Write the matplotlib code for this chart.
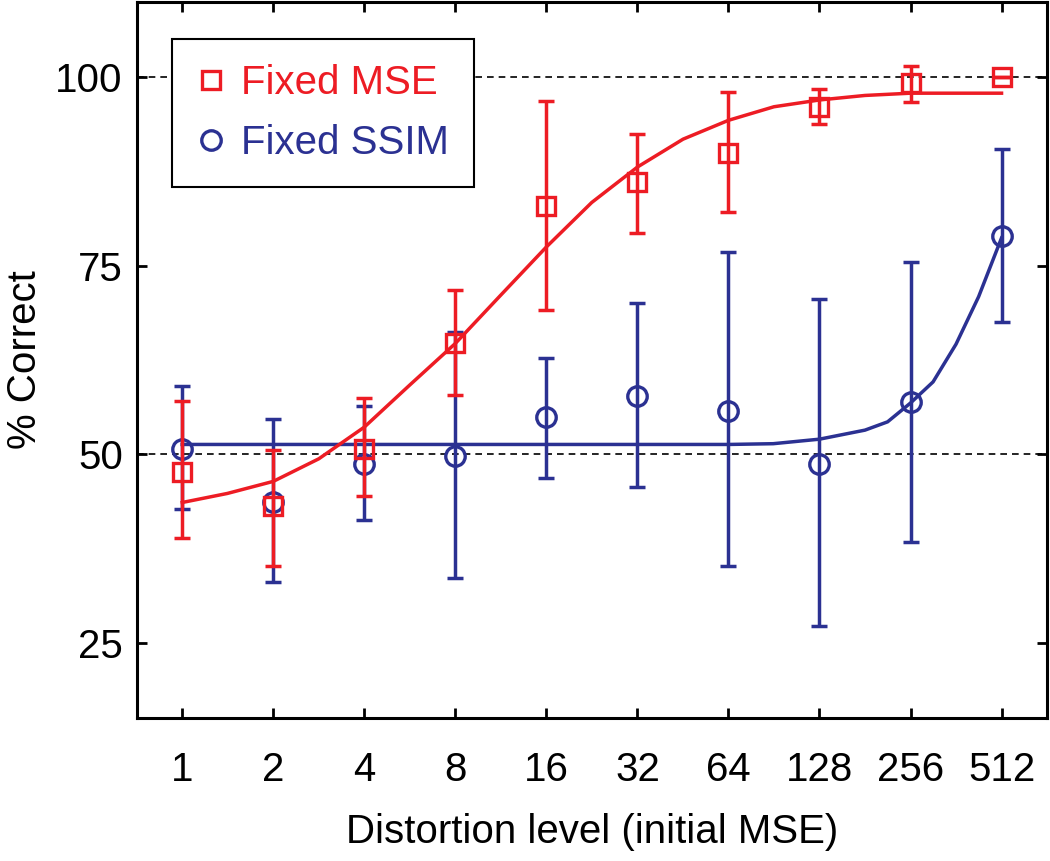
import matplotlib
matplotlib.use("Agg")
import matplotlib.pyplot as plt
from matplotlib.lines import Line2D

# === Data ===
levels = [1, 2, 4, 8, 16, 32, 64, 128, 256, 512]
tick_labels = ["1", "2", "4", "8", "16", "32", "64", "128", "256", "512"]

mse_pct = [47.6, 43.1, 50.7, 64.7, 83.0, 86.1, 89.9, 96.1, 99.2, 100.0]
mse_hi = [57.0, 50.5, 57.5, 71.8, 96.9, 92.5, 98.1, 98.4, 101.5, 100.0]
mse_lo = [38.9, 35.2, 44.4, 57.8, 69.1, 79.3, 82.1, 93.8, 96.7, 100.0]

ssim_pct = [50.7, 43.7, 48.7, 49.8, 54.9, 57.7, 55.8, 48.7, 56.9, 79.0]
ssim_hi = [59.1, 54.7, 56.4, 66.2, 62.8, 70.1, 76.8, 70.6, 75.5, 90.5]
ssim_lo = [42.7, 33.0, 41.3, 33.6, 46.8, 45.7, 35.2, 27.2, 38.3, 67.6]

# fitted curves
mse_fit_x = [1, 1.41, 2, 2.83, 4, 5.66, 8, 11.3, 16, 22.6, 32, 45.3, 64, 90.5, 128, 181, 256, 362, 512]
mse_fit_y = [43.6, 44.8, 46.4, 49.4, 53.6, 59.2, 64.7, 71.1, 77.5, 83.4, 88.1, 91.8, 94.3, 96.1, 97.0, 97.6, 97.9, 97.9, 97.9]

ssim_fit_x = [1, 16, 64, 90, 128, 181, 215, 256, 304, 362, 430, 512]
ssim_fit_y = [51.3, 51.3, 51.3, 51.4, 52.0, 53.2, 54.3, 56.8, 59.6, 64.6, 70.9, 78.7]

RED = "#ED1C24"
BLUE = "#2B3192"

plt.rcParams["font.family"] = ["Liberation Sans", "DejaVu Sans"]
plt.rcParams["font.size"] = 29

fig = plt.figure(figsize=(10.5, 8.61), dpi=100)
ax = fig.add_axes([0.1302, 0.166, 0.867, 0.8317])

ax.set_xscale("log", base=2)
ax.set_xlim(2 ** -0.5, 2 ** 9.5)
ax.set_ylim(15, 110)

# reference lines at chance and ceiling
for yref in (50, 100):
    ax.axhline(yref, color="black", lw=1.2, ls=(0, (4, 3)), zorder=1)

lw = 2.5
cap = 6
# blue series first so red ends on top
ax.errorbar(levels, ssim_pct,
            yerr=[[p - l for p, l in zip(ssim_pct, ssim_lo)],
                  [h - p for p, h in zip(ssim_pct, ssim_hi)]],
            fmt="none", ecolor=BLUE, elinewidth=lw, capsize=cap, capthick=lw, zorder=2)
ax.plot(ssim_fit_x, ssim_fit_y, color=BLUE, lw=lw, zorder=3)
ax.plot(levels, ssim_pct, ls="none", marker="o", ms=14, mfc="none",
        mec=BLUE, mew=2.4, zorder=4)

ax.errorbar(levels, mse_pct,
            yerr=[[p - l for p, l in zip(mse_pct, mse_lo)],
                  [h - p for p, h in zip(mse_pct, mse_hi)]],
            fmt="none", ecolor=RED, elinewidth=lw, capsize=cap, capthick=lw, zorder=5)
ax.plot(mse_fit_x, mse_fit_y, color=RED, lw=lw, zorder=6)
ax.plot(levels, mse_pct, ls="none", marker="s", ms=13, mfc="none",
        mec=RED, mew=2.4, zorder=7)

ax.set_xticks(levels)
ax.set_xticklabels(tick_labels)
ax.minorticks_off()
ax.set_yticks([25, 50, 75, 100])

ax.tick_params(direction="in", length=7, width=2, top=True, right=True)
ax.tick_params(axis="x", pad=24)
ax.tick_params(axis="y", pad=10)
for sp in ax.spines.values():
    sp.set_linewidth(2.2)

ax.set_xlabel("Distortion level (initial MSE)", labelpad=17)
ax.set_ylabel("% Correct", labelpad=8)

handles = [
    Line2D([], [], ls="none", marker="s", ms=13, mfc="none", mec=RED, mew=2.4),
    Line2D([], [], ls="none", marker="o", ms=14, mfc="none", mec=BLUE, mew=2.4),
]
leg = ax.legend(handles, ["Fixed MSE", "Fixed SSIM"], loc="upper left",
                bbox_to_anchor=(0.039, 0.948), borderaxespad=0, fancybox=False,
                framealpha=1, edgecolor="black", handlelength=0.7,
                handletextpad=0.4, borderpad=0.62, labelspacing=0.55)
leg.get_frame().set_linewidth(1.5)
for txt, col in zip(leg.get_texts(), [RED, BLUE]):
    txt.set_color(col)

fig.savefig("out.png", dpi=100)
